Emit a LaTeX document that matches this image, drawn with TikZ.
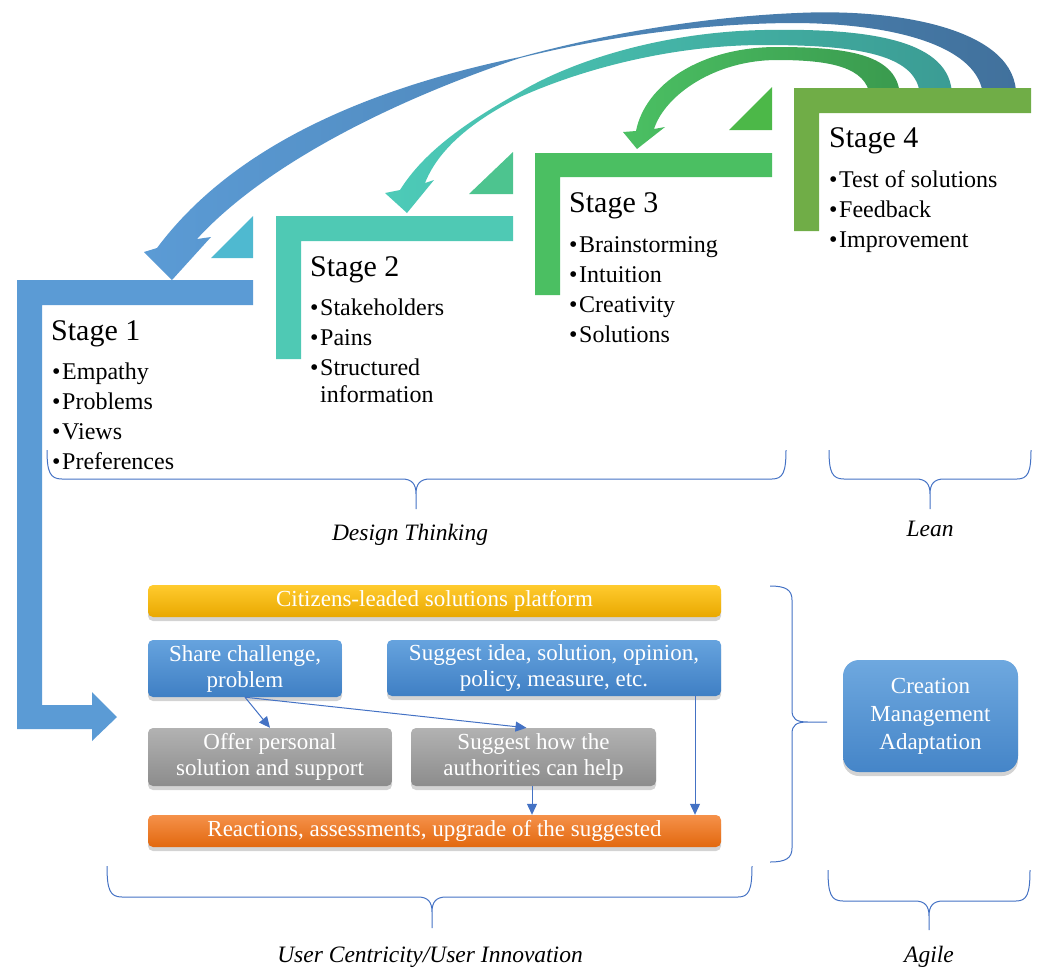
\documentclass[tikz,border=0pt]{standalone}
\usepackage{fontspec}
\setmainfont{Liberation Serif}
\usetikzlibrary{arrows.meta,shadows}
\definecolor{sOne}{HTML}{5B9BD5}
\definecolor{sTwo}{HTML}{4FC9B4}
\definecolor{sThree}{HTML}{4BBF62}
\definecolor{sFour}{HTML}{70AD47}
\definecolor{tOne}{HTML}{4FB9D0}
\definecolor{tTwo}{HTML}{4DC48F}
\definecolor{tThree}{HTML}{4CB848}
\definecolor{arcBlueL}{HTML}{5B9BD5}
\definecolor{arcBlueR}{HTML}{41719C}
\definecolor{arcTealL}{HTML}{4DCBB8}
\definecolor{arcTealR}{HTML}{3B9C94}
\definecolor{arcGreenL}{HTML}{4BC063}
\definecolor{arcGreenR}{HTML}{3A9A4E}
\definecolor{braceBlue}{HTML}{4472C4}
\definecolor{yelTop}{HTML}{FFCB2E}
\definecolor{yelBot}{HTML}{E9A800}
\definecolor{bluTop}{HTML}{66A3DE}
\definecolor{bluBot}{HTML}{3F7FC4}
\definecolor{gryTop}{HTML}{B2B2B2}
\definecolor{gryBot}{HTML}{8C8C8C}
\definecolor{orgTop}{HTML}{F5914A}
\definecolor{orgBot}{HTML}{E2680E}
\definecolor{crTop}{HTML}{6EA8DF}
\definecolor{crBot}{HTML}{4585C8}
\newcommand{\bitem}[1]{\makebox[10pt][l]{•}#1}
\begin{document}
\begin{tikzpicture}[x=1pt,y=-1pt,
  stitle/.style={anchor=base west, inner sep=0, font=\fontsize{30}{30}\selectfont},
  sitem/.style={anchor=base west, inner sep=0, font=\fontsize{24}{24}\selectfont},
  lbl/.style={anchor=base, inner sep=0, font=\fontsize{23.5}{23.5}\selectfont\itshape},
  brace/.style={draw=braceBlue, line width=1pt},
  box/.style={rounded corners=5pt, inner sep=0, text=white, align=center,
    font=\fontsize{23}{26}\selectfont,
    drop shadow={opacity=0.35, shadow xshift=0pt, shadow yshift=-4pt}},
  conn/.style={draw=braceBlue, line width=1pt, -{Triangle[length=11pt,width=10pt]}}
]
\useasboundingbox (0,0) rectangle (1041,970);

% ---- curved arrows ----
\shade[left color=arcBlueL, right color=arcBlueR]
  (983,96) .. controls (980,48) and (900,24) .. (797,23)
  .. controls (700,23) and (600,38) .. (520,58)
  .. controls (380,105) and (260,170) .. (197,239)
  -- (211,237) -- (172,280) -- (144,252) -- (157,248)
  .. controls (230,150) and (360,90) .. (520,57)
  .. controls (600,35) and (700,17) .. (797,13)
  .. controls (900,8) and (1018,30) .. (1016,96) -- cycle;
\shade[left color=arcTealL, right color=arcTealR]
  (920,96) .. controls (918,55) and (860,45) .. (764,45)
  .. controls (670,45) and (580,70) .. (520,97)
  .. controls (480,117) and (440,145) .. (425,183)
  -- (434,180) -- (407,213) -- (385,193) -- (400,190)
  .. controls (425,150) and (470,120) .. (520,92)
  .. controls (570,62) and (660,32) .. (764,30)
  .. controls (870,28) and (952,40) .. (952,96) -- cycle;
\shade[left color=arcGreenL, right color=arcGreenR]
  (870,96) .. controls (866,67) and (830,60) .. (777,60)
  .. controls (715,60) and (665,95) .. (654,129)
  -- (665,127) -- (637,149) -- (623,132) -- (636,131)
  .. controls (645,85) and (700,47) .. (777,47)
  .. controls (850,47) and (898,55) .. (900,96) -- cycle;

% ---- stage L-shapes ----
\fill[sOne] (17,280) -- (253,280) -- (253,305) -- (42,305) -- (42,705) -- (92,705)
  -- (92,692) -- (117,717) -- (92,741) -- (92,729) -- (17,729) -- cycle;
\fill[sTwo] (276,216) -- (513,216) -- (513,241) -- (301,241) -- (301,359) -- (276,359) -- cycle;
\fill[sThree] (535,153) -- (772,153) -- (772,177) -- (560,177) -- (560,295) -- (535,295) -- cycle;
\fill[sFour] (794,88) -- (1031,88) -- (1031,113) -- (819,113) -- (819,231) -- (794,231) -- cycle;
\fill[tOne] (211,258) -- (253,258) -- (253,216) -- cycle;
\fill[tTwo] (469,194) -- (513,194) -- (513,152) -- cycle;
\fill[tThree] (729,130) -- (772,130) -- (772,87) -- cycle;

% ---- stage texts ----
\node[stitle] (s1) at (51,340) {Stage 1};
\node[sitem] (s1a) at (52,379) {\bitem{Empathy}};
\node[sitem] (s1b) at (52,409) {\bitem{Problems}};
\node[sitem] (s1c) at (52,439) {\bitem{Views}};
\node[sitem] (s1d) at (52,469) {\bitem{Preferences}};

\node[stitle] (s2) at (310,276) {Stage 2};
\node[sitem] (s2a) at (310,315) {\bitem{Stakeholders}};
\node[sitem] (s2b) at (310,345) {\bitem{Pains}};
\node[sitem] (s2c) at (310,375) {\bitem{Structured}};
\node[sitem] (s2d) at (320,402) {information};

\node[stitle] (s3) at (569,212) {Stage 3};
\node[sitem] (s3a) at (569,252) {\bitem{Brainstorming}};
\node[sitem] (s3b) at (569,282) {\bitem{Intuition}};
\node[sitem] (s3c) at (569,312) {\bitem{Creativity}};
\node[sitem] (s3d) at (569,342) {\bitem{Solutions}};

\node[stitle] (s4) at (829,147) {Stage 4};
\node[sitem] (s4a) at (829,187) {\bitem{Test of solutions}};
\node[sitem] (s4b) at (829,217) {\bitem{Feedback}};
\node[sitem] (s4c) at (829,247) {\bitem{Improvement}};

% ---- braces ----
\draw[brace] (47,450) .. controls (47,472) and (50,479) .. (62,479) -- (402,479)
  .. controls (412,479) and (416,484) .. (416,494) -- (416,509)
  (416,494) .. controls (416,484) and (420,479) .. (430,479) -- (772,479)
  .. controls (783,479) and (786,472) .. (786,450);
\draw[brace] (829,450) .. controls (829,472) and (832,479) .. (844,479) -- (916,479)
  .. controls (926,479) and (930,484) .. (930,494) -- (930,509)
  (930,494) .. controls (930,484) and (934,479) .. (944,479) -- (1017,479)
  .. controls (1028,479) and (1031,472) .. (1031,450);
\draw[brace] (107,866) .. controls (107,890) and (110,897) .. (122,897) -- (418,897)
  .. controls (428,897) and (432,902) .. (432,912) -- (432,928)
  (432,912) .. controls (432,902) and (436,897) .. (446,897) -- (738,897)
  .. controls (749,897) and (752,890) .. (752,866);
\draw[brace] (828,870) .. controls (828,894) and (831,901) .. (843,901) -- (915,901)
  .. controls (925,901) and (929,906) .. (929,916) -- (929,930)
  (929,916) .. controls (929,906) and (933,901) .. (943,901) -- (1016,901)
  .. controls (1027,901) and (1030,894) .. (1030,870);
\draw[brace] (770,586) .. controls (786,586) and (792,590) .. (792,600) -- (792,710)
  .. controls (792,719) and (796,722) .. (808,722) -- (827,722)
  (808,722) .. controls (796,722) and (792,725) .. (792,734) -- (792,848)
  .. controls (792,858) and (786,862) .. (770,862);

\node[lbl] (ldt) at (410,540) {Design Thinking};
\node[lbl] (llean) at (930,536) {Lean};
\node[lbl] (luc) at (430,962) {User Centricity/User Innovation};
\node[lbl] (lag) at (929,962) {Agile};

% ---- platform boxes ----
\node[box, top color=yelTop, bottom color=yelBot, minimum width=573pt, minimum height=32pt] (plat) at (434.5,601) {Citizens-leaded solutions platform};
\node[box, top color=bluTop, bottom color=bluBot, minimum width=194pt, minimum height=57pt] (share) at (245,668.5) {Share challenge,\\problem};
\node[box, top color=bluTop, bottom color=bluBot, minimum width=334pt, minimum height=56pt] (idea) at (554,668) {Suggest idea, solution, opinion,\\policy, measure, etc.};
\node[box, top color=gryTop, bottom color=gryBot, minimum width=244pt, minimum height=58pt] (offer) at (270,757) {Offer personal\\solution and support};
\node[box, top color=gryTop, bottom color=gryBot, minimum width=245pt, minimum height=58pt] (how) at (533.5,757) {Suggest how the\\authorities can help};
\node[box, top color=orgTop, bottom color=orgBot, minimum width=573pt, minimum height=32pt] (react) at (434.5,831) {Reactions, assessments, upgrade of the suggested};
\node[box, rounded corners=16pt, top color=crTop, bottom color=crBot, minimum width=175pt, minimum height=112pt, font=\fontsize{23}{28}\selectfont] (cma) at (930.5,716) {Creation\\Management\\Adaptation};

\draw[conn] (share.south) -- (offer.north);
\draw[conn] (share.south) -- ([xshift=-7pt]how.north);
\draw[conn] ([xshift=-1.5pt]how.south) -- ([xshift=-1.5pt]how.south |- react.north);
\draw[conn] ([xshift=141pt]idea.south) -- ([xshift=141pt]idea.south |- react.north);
\end{tikzpicture}
\end{document}
